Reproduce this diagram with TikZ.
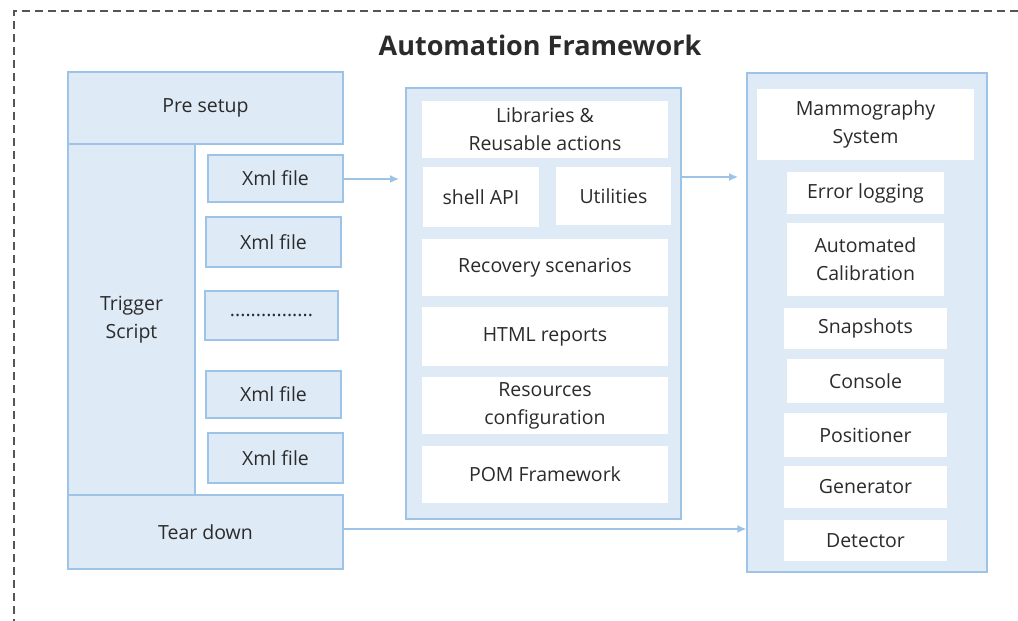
\documentclass[tikz,border=0pt]{standalone}
\usepackage{fontspec}
\setmainfont{Open Sans}
\usetikzlibrary{fit,arrows.meta}
\definecolor{lbfill}{HTML}{DEEAF6}
\definecolor{lbline}{HTML}{9DC3E6}
\definecolor{txt}{HTML}{2B2B2B}
\definecolor{dashc}{HTML}{555555}
\tikzset{
  lbl/.style={text=txt, align=center, inner sep=0pt, font=\fontsize{19.5}{28}\selectfont},
  lbox/.style={draw=lbline, fill=lbfill, line width=1.3pt, inner sep=0pt},
  wbox/.style={draw=none, fill=white, inner sep=0pt},
  cont/.style={draw=lbline, fill=lbfill, line width=1.3pt, inner sep=0pt},
  conn/.style={draw=lbline, line width=1.3pt, -{Latex[length=9pt,width=8pt]}},
}
\newcommand{\tx}[2]{\node[lbl] at (#1.center) {#2};}
\begin{document}
\begin{tikzpicture}[x=1pt,y=-1pt]
\useasboundingbox (0,0) rectangle (1018,621);
\draw[dashc, line width=1.3pt, dash pattern=on 8pt off 5pt] (14,640) -- (14,11) -- (1040,11);
\node[text=txt, font=\bfseries\fontsize{27}{32}\selectfont] (title) at (540,45) {Automation Framework};

% left column
\node[lbox, fit={(68,72) (343,144)}] (pre) {};
\node[lbox, fit={(68,144) (195,495)}] (trig) {};
\node[lbox, fit={(68,495) (343,569)}] (tear) {};
\node[lbox, fit={(208,155) (343,202)}] (x1) {};
\node[lbox, fit={(206,217) (341,267)}] (x2) {};
\node[lbox, fit={(205,291) (338,340)}] (x3) {};
\node[lbox, fit={(206,371) (341,418)}] (x4) {};
\node[lbox, fit={(208,433) (343,483)}] (x5) {};
\tx{pre}{Pre setup}
\tx{trig}{Trigger\\Script}
\tx{tear}{Tear down}
\tx{x1}{Xml file}
\tx{x2}{Xml file}
\tx{x3}{................}
\tx{x4}{Xml file}
\tx{x5}{Xml file}

% middle
\node[cont, fit={(406,88) (681,519)}] (mid) {};
\node[wbox, fit={(422,101) (668,158)}] (lib) {};
\node[wbox, fit={(423,167) (539,227)}] (shell) {};
\node[wbox, fit={(556,167) (671,225)}] (util) {};
\node[wbox, fit={(422,239) (668,296)}] (rec) {};
\node[wbox, fit={(422,307) (668,366)}] (html) {};
\node[wbox, fit={(422,377) (668,434)}] (res) {};
\node[wbox, fit={(422,446) (668,503)}] (pom) {};
\tx{lib}{Libraries \&\\Reusable actions}
\tx{shell}{shell API}
\tx{util}{Utilities}
\tx{rec}{Recovery scenarios}
\tx{html}{HTML reports}
\tx{res}{Resources\\configuration}
\tx{pom}{POM Framework}

% right
\node[cont, fit={(747,73) (987,572)}] (right) {};
\node[wbox, fit={(757,89) (974,160)}] (mam) {};
\node[wbox, fit={(787,172) (944,214)}] (err) {};
\node[wbox, fit={(787,223) (944,296)}] (cal) {};
\node[wbox, fit={(784,308) (947,349)}] (snap) {};
\node[wbox, fit={(787,359) (944,403)}] (cons) {};
\node[wbox, fit={(784,413) (947,457)}] (pos) {};
\node[wbox, fit={(784,466) (947,508)}] (gen) {};
\node[wbox, fit={(784,520) (947,561)}] (det) {};
\tx{mam}{Mammography\\System}
\tx{err}{Error logging}
\tx{cal}{Automated\\Calibration}
\tx{snap}{Snapshots}
\tx{cons}{Console}
\tx{pos}{Positioner}
\tx{gen}{Generator}
\tx{det}{Detector}

% connectors
\coordinate (a1) at (399,179);
\coordinate (a2) at (738,177);
\draw[conn] (x1.east |- 0,179) -- (a1);
\draw[conn] (mid.east |- 0,177) -- (a2);
\draw[conn] (tear.east |- 0,529) -- (right.west |- 0,529);
\end{tikzpicture}
\end{document}
